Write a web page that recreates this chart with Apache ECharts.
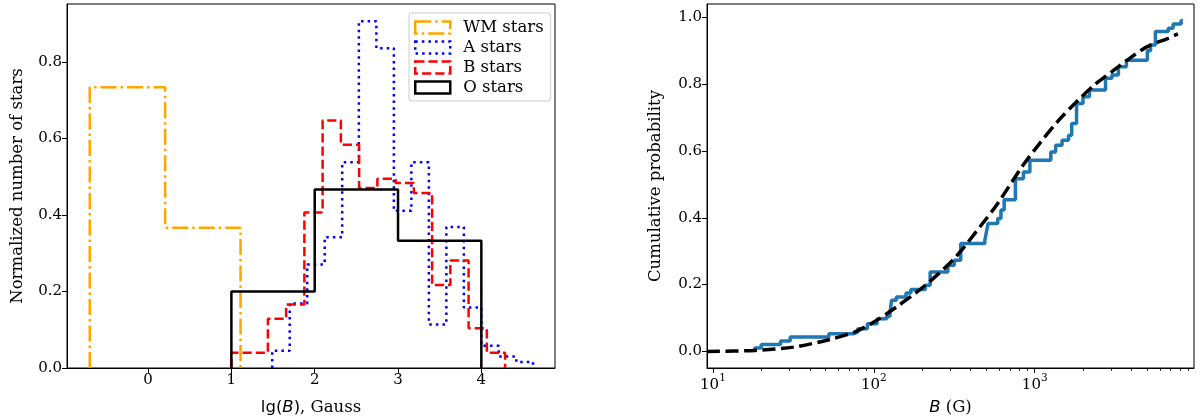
<!DOCTYPE html>
<html>
<head>
<meta charset="utf-8">
<script src="https://cdn.jsdelivr.net/npm/echarts@6/dist/echarts.min.js"></script>
<style>
  html, body { margin: 0; padding: 0; background: #fff; }
  #chart { width: 1200px; height: 418px; }
</style>
</head>
<body>
<div id="chart"></div>
<script>
// histogram bins, lg(B) in Gauss
var wmEdges = [-0.70, 0.205, 1.11];
var wmValues = [0.734, 0.367];
var aEdges = [1.49, 1.70, 1.91, 2.12, 2.33, 2.53, 2.74, 2.95, 3.16, 3.37, 3.58, 3.79, 4.00, 4.21, 4.42, 4.62];
var aValues = [0.045, 0.169, 0.271, 0.342, 0.538, 0.907, 0.836, 0.411, 0.538, 0.114, 0.369, 0.158, 0.058, 0.030, 0.016];
var bEdges = [1.0, 1.219, 1.438, 1.657, 1.876, 2.095, 2.314, 2.533, 2.752, 2.971, 3.19, 3.409, 3.628, 3.847, 4.066, 4.285];
var bValues = [0.040, 0.040, 0.129, 0.166, 0.407, 0.647, 0.584, 0.471, 0.495, 0.484, 0.458, 0.217, 0.281, 0.104, 0.040];
var oEdges = [1, 2, 3, 4];
var oValues = [0.200, 0.467, 0.333];
var histTicksX = [0, 1, 2, 3, 4];
var histTicksY = [0, 0.2, 0.4, 0.6, 0.8];

// empirical cumulative distribution, log10(B / G)
var cdfLogB = [1.26, 1.26, 1.30, 1.42, 1.48, 1.72, 1.87, 1.90, 1.96, 2.02, 2.08, 2.10, 2.11, 2.14, 2.20, 2.23,
  2.32, 2.35, 2.46, 2.50, 2.54, 2.69, 2.70, 2.71, 2.77, 2.79, 2.81, 2.88, 2.93, 2.97, 3.10, 3.13,
  3.17, 3.21, 3.23, 3.26, 3.30, 3.34, 3.44, 3.48, 3.52, 3.57, 3.70, 3.72, 3.75, 3.83, 3.86, 3.91, 3.92];
var cdfLevel = [0, 0.010, 0.021, 0.031, 0.043, 0.053, 0.058, 0.068, 0.083, 0.098, 0.105, 0.113, 0.153, 0.163, 0.175, 0.185,
  0.198, 0.238, 0.258, 0.273, 0.323, 0.333, 0.358, 0.383, 0.398, 0.423, 0.454, 0.517, 0.537, 0.572, 0.597, 0.617,
  0.632, 0.647, 0.682, 0.742, 0.762, 0.782, 0.817, 0.827, 0.852, 0.871, 0.900, 0.917, 0.957, 0.967, 0.980, 0.990, 0.990];
// model curve
var modelLogB = [0.963, 1.26, 1.50, 1.72, 1.88, 2.00, 2.14, 2.32, 2.50, 2.66, 2.77, 2.92, 3.03, 3.15, 3.26, 3.37, 3.48, 3.59, 3.70, 3.83, 3.89];
var modelCdf = [0.000, 0.003, 0.013, 0.035, 0.058, 0.088, 0.133, 0.198, 0.278, 0.373, 0.443, 0.552, 0.622, 0.692, 0.747, 0.797, 0.837, 0.877, 0.912, 0.937, 0.950];
var cdfMajor = [1, 2, 3];
var cdfTicksY = [0, 0.2, 0.4, 0.6, 0.8, 1.0];

var serif = 'DejaVu Serif';
var sans = 'DejaVu Sans';
var nameSize = 16.5;

function stepData(edges, values) {
  var d = [[edges[0], 0]];
  values.forEach(function (v, i) { d.push([edges[i], v]); });
  d.push([edges[edges.length - 1], 0]);
  return d;
}

var minorTicks = [];
[1, 2, 3].forEach(function (p) {
  for (var k = 2; k <= 9; k++) minorTicks.push(p + Math.log10(k));
});

var wmDash = [16, 4, 2.5, 4], aDash = [2.5, 4.1], bDash = [9.2, 4];

function histSeries(name, edges, values, color, dash) {
  return {
    name: name, type: 'line', xAxisIndex: 0, yAxisIndex: 0, step: 'end',
    data: stepData(edges, values), symbol: 'none',
    lineStyle: { color: color, width: 2.5, type: dash }
  };
}

function legendItem(name, color, dash) {
  return { name: name, icon: 'rect',
    itemStyle: { color: 'rgba(0,0,0,0)', borderColor: color, borderWidth: 2.5, borderType: dash } };
}

var tickStyle = { show: true, length: 5, inside: false, lineStyle: { color: '#000', width: 1 } };
var labelFont = { fontFamily: serif, fontSize: 15, color: '#000', margin: 5 };
var axisLineStyle = { show: true, onZero: false, lineStyle: { color: '#000' } };

var chart = echarts.init(document.getElementById('chart'));
chart.setOption({
  animation: false,
  backgroundColor: '#fff',
  grid: [
    { left: 67, right: 645, top: 4, bottom: 50, show: true, borderColor: '#000', borderWidth: 1, outerBoundsMode: 'none' },
    { left: 707, right: 6, top: 4, bottom: 50, show: true, borderColor: '#000', borderWidth: 1, outerBoundsMode: 'none' }
  ],
  legend: {
    orient: 'vertical', left: 409, top: 13, padding: [6, 7, 5, 5],
    itemWidth: 35, itemHeight: 12, itemGap: 3,
    borderColor: '#ccc', borderWidth: 1, borderRadius: 3, backgroundColor: 'rgba(255,255,255,0.8)',
    textStyle: { fontFamily: serif, fontSize: nameSize, color: '#000', padding: [0, 0, 0, 8] },
    data: [
      legendItem('WM stars', '#ffa500', wmDash),
      legendItem('A stars', '#0000ff', aDash),
      legendItem('B stars', '#ff0000', bDash),
      legendItem('O stars', '#000000', 'solid')
    ]
  },
  xAxis: [
    {
      type: 'value', gridIndex: 0, min: -0.973, max: 4.884, position: 'bottom',
      splitLine: { show: false },
      axisLine: axisLineStyle,
      axisTick: Object.assign({ customValues: histTicksX }, tickStyle),
      axisLabel: Object.assign({ customValues: histTicksX }, labelFont),
      name: '{s|lg(}{i|B}{s|)}{r|, Gauss}', nameLocation: 'middle', nameGap: 31,
      nameTextStyle: { rich: {
        s: { fontFamily: sans, fontSize: nameSize, color: '#000' },
        i: { fontFamily: sans, fontStyle: 'italic', fontSize: nameSize, color: '#000' },
        r: { fontFamily: serif, fontSize: nameSize, color: '#000' }
      } }
    },
    {
      type: 'value', gridIndex: 1, min: 0.963, max: 3.99, position: 'bottom',
      splitLine: { show: false },
      axisLine: axisLineStyle,
      axisTick: Object.assign({ customValues: cdfMajor }, tickStyle),
      axisLabel: {
        customValues: cdfMajor, margin: 5,
        formatter: function (v) { return '{b|10}{s|' + Math.round(v) + '}'; },
        rich: {
          b: { fontFamily: serif, fontSize: 15, color: '#000', lineHeight: 20, verticalAlign: 'bottom' },
          s: { fontFamily: serif, fontSize: 10.5, color: '#000', verticalAlign: 'top' }
        }
      },
      name: '{i|B}{r| (G)}', nameLocation: 'middle', nameGap: 31,
      nameTextStyle: { rich: {
        i: { fontFamily: sans, fontStyle: 'italic', fontSize: nameSize, color: '#000' },
        r: { fontFamily: serif, fontSize: nameSize, color: '#000' }
      } }
    },
    {
      type: 'value', gridIndex: 1, min: 0.963, max: 3.99, position: 'bottom',
      splitLine: { show: false }, axisLine: { show: false, onZero: false },
      axisTick: { show: true, length: 3, customValues: minorTicks, lineStyle: { color: '#000', width: 0.8 } },
      axisLabel: { show: false }
    }
  ],
  yAxis: [
    {
      type: 'value', gridIndex: 0, min: 0, max: 0.952, position: 'left',
      splitLine: { show: false },
      axisLine: axisLineStyle,
      axisTick: Object.assign({ customValues: histTicksY }, tickStyle),
      axisLabel: Object.assign({ customValues: histTicksY, formatter: function (v) { return v.toFixed(1); } }, labelFont),
      name: 'Normalized number of stars', nameLocation: 'middle', nameGap: 41,
      nameTextStyle: { fontFamily: serif, fontSize: nameSize, color: '#000' }
    },
    {
      type: 'value', gridIndex: 1, min: -0.0495, max: 1.0395, position: 'left',
      splitLine: { show: false },
      axisLine: axisLineStyle,
      axisTick: Object.assign({ customValues: cdfTicksY }, tickStyle),
      axisLabel: Object.assign({ customValues: cdfTicksY, formatter: function (v) { return v.toFixed(1); } }, labelFont),
      name: 'Cumulative probability', nameLocation: 'middle', nameGap: 43,
      nameTextStyle: { fontFamily: serif, fontSize: nameSize, color: '#000' }
    }
  ],
  series: [
    histSeries('WM stars', wmEdges, wmValues, '#ffa500', wmDash),
    histSeries('A stars', aEdges, aValues, '#0000ff', aDash),
    histSeries('B stars', bEdges, bValues, '#ff0000', bDash),
    histSeries('O stars', oEdges, oValues, '#000000', 'solid'),
    {
      name: 'data', type: 'line', xAxisIndex: 1, yAxisIndex: 1, step: 'end', symbol: 'none',
      data: cdfLogB.map(function (x, i) { return [x, cdfLevel[i]]; }),
      lineStyle: { color: '#1f77b4', width: 3.5 }
    },
    {
      name: 'model', type: 'line', xAxisIndex: 1, yAxisIndex: 1, symbol: 'none', smooth: 0.3,
      data: modelLogB.map(function (x, i) { return [x, modelCdf[i]]; }),
      lineStyle: { color: '#000', width: 3.5, type: [13, 5.5] }
    }
  ]
});
</script>
</body>
</html>
